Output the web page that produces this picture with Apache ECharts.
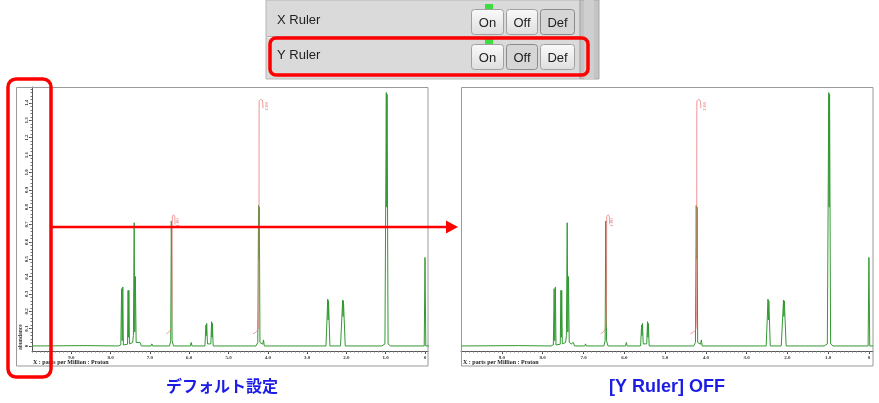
<!DOCTYPE html>
<html>
<head>
<meta charset="utf-8">
<script src="https://cdn.jsdelivr.net/npm/echarts@6/dist/echarts.min.js"></script>
<style>html,body{margin:0;padding:0;background:#fff;}#c{width:879px;height:403px;}</style>
</head>
<body>
<div id="c"></div>
<script>
// ---- data ----
// NMR spectrum: [ppm, abundance]
const spectrum = [
  [10.0,0],[8.6,0.002],[7.80,0],[7.74,0.006],[7.72,0.33],[7.705,0.03],[7.69,0.34],[7.675,0.006],
  [7.57,0.01],[7.555,0.32],[7.545,0.05],[7.535,0.32],[7.52,0.012],
  [7.44,0.02],[7.42,0.06],[7.40,0.71],[7.385,0.08],[7.37,0.40],[7.35,0.02],[7.30,0.012],[7.25,0.02],[7.22,0],
  [6.97,0],[6.95,0.012],[6.93,0],
  [6.50,0],[6.47,0.03],[6.455,0.72],[6.445,0.42],[6.435,0.03],[6.40,0],
  [5.97,0],[5.95,0.02],[5.93,0],
  [5.60,0],[5.575,0.12],[5.565,0.06],[5.555,0.13],[5.535,0.012],
  [5.45,0.012],[5.43,0.14],[5.42,0.05],[5.41,0.13],[5.39,0],
  [4.30,0],[4.255,0.02],[4.235,0.81],[4.225,0.5],[4.215,0.80],[4.20,0.02],[4.13,0.01],[4.11,0.035],[4.09,0],
  [2.52,0],[2.475,0.27],[2.465,0.15],[2.455,0.26],[2.42,0],
  [2.15,0],[2.095,0.265],[2.085,0.17],[2.075,0.26],[2.03,0],
  [1.10,0],[1.02,0.012],[0.985,1.46],[0.975,0.8],[0.965,1.45],[0.94,0.012],[0.88,0],
  [0.02,0],[0.0,0.51],[-0.02,0],[-0.1,0]
];
// integral curves: [ppm, value]
const integral1 = [[6.58,0.07],[6.50,0.085],[6.45,0.11],[6.435,0.3],[6.43,0.745],[6.40,0.755],[6.37,0.75],[6.36,0.70]];
const integral2 = [[4.38,0.07],[4.30,0.08],[4.24,0.10],[4.225,0.3],[4.22,1.41],[4.18,1.42],[4.14,1.415],[4.12,1.37]];
const integralLabels = ['1.00','2.00'];
const integralLabelPos = [[6.30,0.71],[4.04,1.38]];
// tick labels
const xTickValues = [9,8,7,6,5,4,3,2,1,0];
const yTickValues = [0,0.1,0.2,0.3,0.4,0.5,0.6,0.7,0.8,0.9,1.0,1.1,1.2,1.3,1.4];
const xAxisTitle = 'X : parts per Million : Proton';
const yAxisTitle = 'abundance';
const captionLeft = 'デフォルト設定';
const captionRight = '[Y Ruler] OFF';
const rulerRows = ['X Ruler','Y Ruler'];
const rulerButtons = ['On','Off','Def'];

// minor tick positions
const xMinor = []; for (let i = 0; i <= 100; i++) xMinor.push(+(i*0.1).toFixed(2));
const yMinor = []; for (let i = 0; i <= 74; i++) yMinor.push(+(i*0.02).toFixed(2));

const chart = echarts.init(document.getElementById('c'), null, {renderer:'canvas'});
const tickFont = {fontSize:5, fontFamily:'Liberation Serif', fontWeight:'bold', color:'#333'};
const fmtTick = v => (Math.abs(v) < 1e-9 ? '0' : v.toFixed(1));

function xAxes(grid, min, max) {
  return [
    {gridIndex:grid, type:'value', position:'bottom', inverse:true, min:min, max:max,
     axisLine:{show:true, onZero:false, lineStyle:{color:'#555', width:1}},
     axisTick:{show:true, customValues:xTickValues, length:3, lineStyle:{color:'#444'}},
     axisLabel:Object.assign({show:true, customValues:xTickValues, margin:4, formatter:fmtTick}, tickFont),
     splitLine:{show:false}},
    {gridIndex:grid, type:'value', position:'bottom', inverse:true, min:min, max:max,
     axisLine:{show:false, onZero:false},
     axisTick:{show:true, customValues:xMinor, length:1.5, lineStyle:{color:'#777'}},
     axisLabel:{show:false}, splitLine:{show:false}}
  ];
}
const yMin = -0.029, yMax = 1.492;

function specSeries(xi, yi) {
  return [
    {type:'line', xAxisIndex:xi, yAxisIndex:yi, data:spectrum, symbol:'none', showSymbol:false,
     lineStyle:{color:'#339933', width:1}, z:3, silent:true},
    {type:'line', xAxisIndex:xi, yAxisIndex:yi, data:integral1, symbol:'none', showSymbol:false, smooth:0.2,
     lineStyle:{color:'#e77', width:0.8}, z:4, silent:true},
    {type:'line', xAxisIndex:xi, yAxisIndex:yi, data:integral2, symbol:'none', showSymbol:false, smooth:0.2,
     lineStyle:{color:'#e77', width:0.8}, z:4, silent:true},
    {type:'scatter', xAxisIndex:xi, yAxisIndex:yi, symbolSize:0, z:5, silent:true,
     data:integralLabelPos.map((p,i)=>({value:p, name:integralLabels[i]})),
     label:{show:true, formatter:p=>p.name, rotate:90, fontSize:5, color:'#d44', fontFamily:'Liberation Serif', position:'inside'}}
  ];
}

const graphics = [];
// chart panels
graphics.push({type:'rect', shape:{x:16.5, y:87.5, width:411.5, height:278.5}, style:{fill:'none', stroke:'#9a9a9a', lineWidth:1}, z:1});
graphics.push({type:'rect', shape:{x:461.5, y:87.5, width:411.5, height:278.5}, style:{fill:'none', stroke:'#9a9a9a', lineWidth:1}, z:1});
graphics.push({type:'text', x:33, y:359, style:{text:xAxisTitle, fontSize:6, fontFamily:'Liberation Serif', fontWeight:'bold', fill:'#222'}, z:2});
graphics.push({type:'text', x:463, y:359, style:{text:xAxisTitle, fontSize:6, fontFamily:'Liberation Serif', fontWeight:'bold', fill:'#222'}, z:2});
graphics.push({type:'text', x:18, y:350, rotation:Math.PI/2, style:{text:yAxisTitle, fontSize:5.5, fontFamily:'Liberation Serif', fontWeight:'bold', fill:'#333'}, z:2});

// ruler settings panel
graphics.push({type:'rect', shape:{x:266, y:0, width:314, height:79}, style:{fill:'#dadada', stroke:'#b5b5b5', lineWidth:1}, z:1});
graphics.push({type:'rect', shape:{x:580, y:0, width:19, height:79}, style:{fill:'#c4c4c4', stroke:'#a8a8a8', lineWidth:1}, z:1});
graphics.push({type:'rect', shape:{x:584, y:0, width:10, height:79}, style:{fill:'#cfcfcf'}, z:1});
graphics.push({type:'line', shape:{x1:267, y1:36.5, x2:580, y2:36.5}, style:{stroke:'#b0b0b0', lineWidth:1}, z:2});
graphics.push({type:'line', shape:{x1:267, y1:37.5, x2:580, y2:37.5}, style:{stroke:'#f2f2f2', lineWidth:1}, z:2});
const rowY = [9, 44];
const btnX = [[471,32],[506,31],[540,34]];
const pressed = [2, 1];
rulerRows.forEach((name, r) => {
  graphics.push({type:'text', x:277, y:rowY[r]+11, style:{text:name, fontSize:13, fontFamily:'Liberation Sans', fill:'#222', textVerticalAlign:'middle'}, z:3});
  graphics.push({type:'rect', shape:{x:485, y:rowY[r]-5, width:8, height:5}, style:{fill:'#3fdc3f'}, z:3});
  rulerButtons.forEach((b, i) => {
    const isP = pressed[r] === i;
    graphics.push({type:'rect', shape:{x:btnX[i][0]+0.5, y:rowY[r]+0.5, width:btnX[i][1], height:25, r:3},
      style:{fill: isP ? '#d6d6d6' : new echarts.graphic.LinearGradient(0,0,0,1,[{offset:0,color:'#fafafa'},{offset:1,color:'#dedede'}]),
             stroke: isP ? '#8a8a8a' : '#a0a0a0', lineWidth:1}, z:3});
    graphics.push({type:'text', x:btnX[i][0]+btnX[i][1]/2+0.5, y:rowY[r]+14, style:{text:b, fontSize:13, fontFamily:'Liberation Sans', fill:'#222', textAlign:'center', textVerticalAlign:'middle'}, z:4});
  });
});
// red annotations
graphics.push({type:'rect', shape:{x:270, y:38, width:318, height:37, r:6}, style:{fill:'none', stroke:'#ff0000', lineWidth:3.5}, z:100});
graphics.push({type:'rect', shape:{x:8, y:79, width:43, height:298, r:8}, style:{fill:'none', stroke:'#ff0000', lineWidth:3.5}, z:100});
graphics.push({type:'line', shape:{x1:51, y1:227, x2:448, y2:227}, style:{stroke:'#ff0000', lineWidth:2.5}, z:100});
graphics.push({type:'polygon', shape:{points:[[446,220.5],[458,227],[446,233.5]]}, style:{fill:'#ff0000'}, z:100});
// captions
graphics.push({type:'text', x:222, y:386, style:{text:captionLeft, fontSize:16, fontWeight:'bold', fontFamily:'Noto Sans CJK JP', fill:'#1c1ce6', textAlign:'center', textVerticalAlign:'middle'}, z:10});
graphics.push({type:'text', x:667, y:387, style:{text:captionRight, fontSize:18, fontWeight:'bold', fontFamily:'Liberation Sans', fill:'#1c1ce6', textAlign:'center', textVerticalAlign:'middle'}, z:10});

const option = {
  animation:false,
  backgroundColor:'#ffffff',
  grid:[
    {left:32, top:87, width:396, height:264},
    {left:461, top:87, width:412, height:264}
  ],
  xAxis:[].concat(xAxes(0, -0.076, 10.0), xAxes(1, -0.1, 10.005)),
  yAxis:[
    {gridIndex:0, type:'value', position:'left', min:yMin, max:yMax,
     axisLine:{show:true, onZero:false, lineStyle:{color:'#555', width:1}},
     axisTick:{show:true, customValues:yTickValues, length:3, lineStyle:{color:'#444'}},
     axisLabel:Object.assign({show:true, customValues:yTickValues, rotate:90, margin:3, formatter:fmtTick}, tickFont),
     splitLine:{show:false}},
    {gridIndex:0, type:'value', position:'left', min:yMin, max:yMax,
     axisLine:{show:false, onZero:false},
     axisTick:{show:true, customValues:yMinor, length:1.5, lineStyle:{color:'#777'}},
     axisLabel:{show:false}, splitLine:{show:false}},
    {gridIndex:1, type:'value', min:yMin, max:yMax, show:false}
  ],
  series:[].concat(specSeries(0,0), specSeries(2,2)),
  graphic:{elements:graphics}
};
chart.setOption(option);
</script>
</body>
</html>
